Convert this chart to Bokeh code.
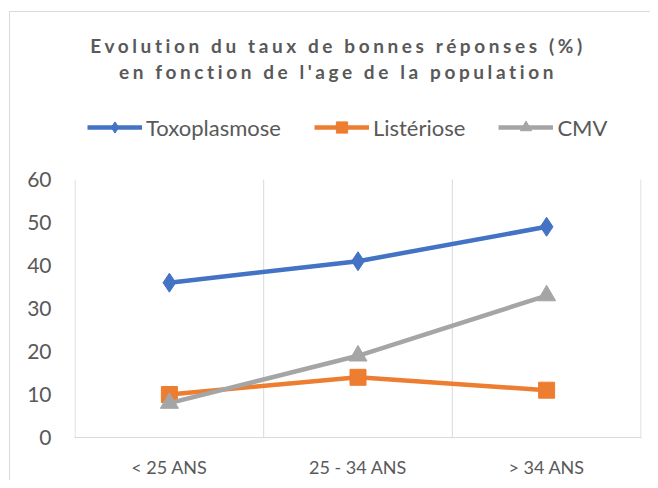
from bokeh.plotting import figure
from bokeh.models import Div, Legend, LegendItem, FixedTicker, Range1d
from bokeh.layouts import column
from bokeh.embed import file_html
from bokeh.resources import INLINE

# ---- data ----
categories = ["< 25 ANS", "25 - 34 ANS", "> 34 ANS"]
series_names = ["Toxoplasmose", "Listériose", "CMV"]
toxoplasmose = [36, 41, 49]
listeriose = [10, 14, 11]
cmv = [8, 19, 33]
y_ticks = [0, 10, 20, 30, 40, 50, 60]
title_lines = ["Evolution du taux de bonnes réponses (%)",
               "en fonction de l'age de la population"]

BLUE, ORANGE, GRAY = "#4472C4", "#ED7D31", "#A5A5A5"
TEXT = "#595959"
GRID = "#D9D9D9"
FONT = "Lato"

x = [i + 0.5 for i in range(len(categories))]
bounds = list(range(len(categories) + 1))

# layout (pixels)
FIG_H = 378
BOTTOM = 43
PLOT_H = 258            # height of the 0..60 area
FRAME_H = FIG_H - BOTTOM
y_top = y_ticks[-1] * FRAME_H / PLOT_H   # extra room above the plot for the legend

title_div = Div(
    text=('<div style="box-sizing:border-box;width:640px;padding-top:21px;padding-left:16px;'
          'text-align:center;font-family:Lato;font-weight:bold;font-size:19px;'
          'letter-spacing:3.6px;line-height:26px;color:#595959;">'
          + "<br>".join(title_lines) + "</div>"),
    width=640, height=90, margin=0)

pad = 0.003
p = figure(width=640, height=FIG_H, output_backend="svg", toolbar_location=None,
           x_range=Range1d(bounds[0] - pad, bounds[-1] + pad),
           y_range=Range1d(y_ticks[0], y_top),
           min_border_left=64, min_border_right=9, min_border_top=0, min_border_bottom=BOTTOM,
           margin=0)
p.outline_line_color = None
p.background_fill_color = "white"
p.border_fill_color = "white"
p.xgrid.grid_line_color = None
p.ygrid.grid_line_color = None

# vertical separators between categories (only over the 0..60 area)
p.segment(x0=bounds, y0=[y_ticks[0]] * len(bounds), x1=bounds, y1=[y_ticks[-1]] * len(bounds),
          line_color=GRID, line_width=1)

# axes
p.yaxis.ticker = FixedTicker(ticks=y_ticks)
p.yaxis.axis_line_color = None
p.yaxis.major_tick_line_color = None
p.yaxis.minor_tick_line_color = None
p.yaxis.major_tick_out = 0
p.yaxis.major_tick_in = 0
p.yaxis.major_label_standoff = 23
p.yaxis.major_label_text_font = FONT
p.yaxis.major_label_text_font_size = "21px"
p.yaxis.major_label_text_color = TEXT

p.xaxis.ticker = FixedTicker(ticks=x)
p.xaxis.major_label_overrides = {xi: c for xi, c in zip(x, categories)}
p.xaxis.axis_line_color = GRID
p.xaxis.axis_line_width = 1
p.xaxis.major_tick_line_color = None
p.xaxis.minor_tick_line_color = None
p.xaxis.major_tick_out = 0
p.xaxis.major_tick_in = 0
p.xaxis.major_label_standoff = 18
p.xaxis.major_label_text_font = FONT
p.xaxis.major_label_text_font_size = "18px"
p.xaxis.major_label_text_color = TEXT

# series
items = []
for name, vals, col, mk, sz in [(series_names[0], toxoplasmose, BLUE, "diamond", 19),
                                (series_names[1], listeriose, ORANGE, "square", 16),
                                (series_names[2], cmv, GRAY, "triangle", 18)]:
    ln = p.line(x, vals, line_color=col, line_width=4.5)
    sc = p.scatter(x, vals, marker=mk, size=sz, fill_color=col, line_color=col)
    items.append(LegendItem(label=name, renderers=[ln, sc]))

legend = Legend(items=items, orientation="horizontal", location=(13, 296),
                padding=0, margin=0, spacing=33, label_standoff=4,
                glyph_width=55, glyph_height=28, label_height=28,
                label_text_font=FONT, label_text_font_size="22px",
                label_text_color=TEXT, background_fill_alpha=0,
                border_line_color=None)
p.add_layout(legend, "center")

root = column(title_div, p, margin=(11, 0, 0, 9),
              styles={"border-top": "1px solid #D9D9D9", "border-left": "1px solid #D9D9D9"})

open("out.html", "w").write(file_html(root, INLINE))
